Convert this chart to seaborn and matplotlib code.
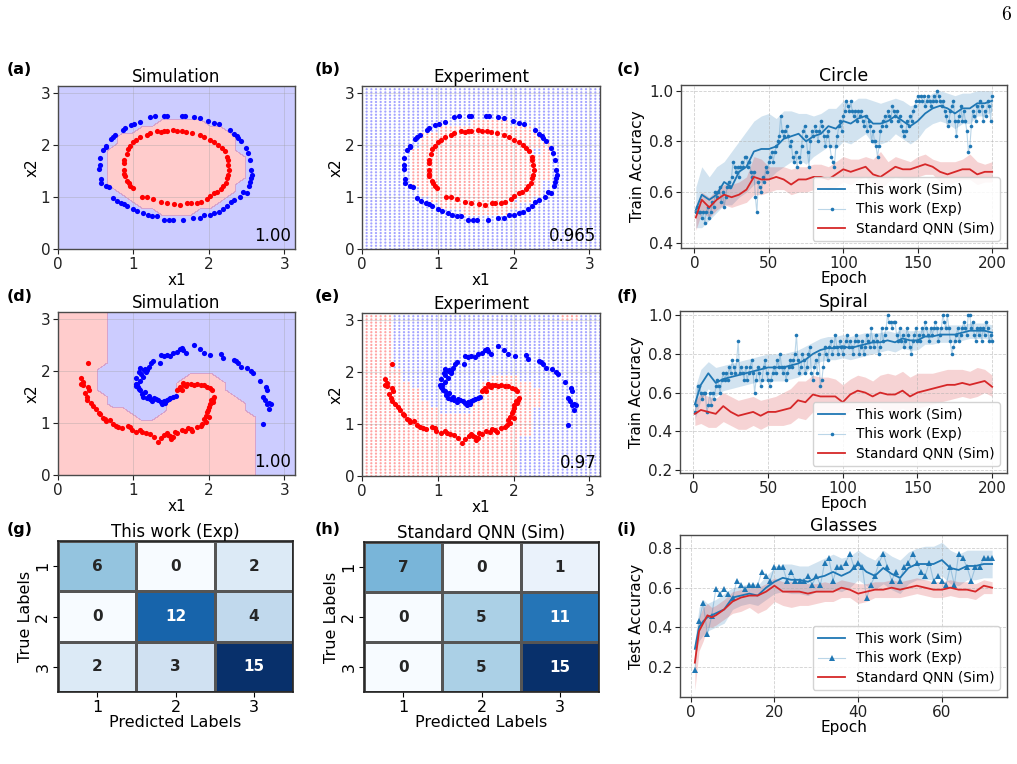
import numpy as np
import matplotlib
matplotlib.use("Agg")
import matplotlib.pyplot as plt
import seaborn as sns

# ---------------------------------------------------------------- data
# circle dataset (panels a, b)
circle_blue_x = [1.28,1.41,1.44,1.64,1.68,1.80,1.88,1.99,2.07,2.14,2.28,2.33,2.37,2.39,2.43,2.49,2.52,2.55,2.56,2.57,
                 2.56,2.55,2.53,2.50,2.45,2.41,2.33,2.29,2.24,2.19,2.13,2.07,2.01,1.94,1.88,1.79,1.66,1.52,1.47,1.40,
                 1.31,1.25,1.19,1.13,1.05,1.00,0.92,0.88,0.84,0.78,0.73,0.67,0.64,0.57,0.57,0.55,0.56,0.56,0.60,0.63,
                 0.64,0.70,0.73,0.76,0.86,0.89,0.97,1.01,1.09,1.22]
circle_blue_y = [2.57,2.57,2.56,2.57,2.56,2.55,2.52,2.46,2.43,2.41,2.29,2.21,2.17,2.14,2.08,1.95,1.85,1.72,1.53,1.43,
                 1.37,1.30,1.22,1.08,1.09,1.01,0.94,0.90,0.82,0.77,0.72,0.69,0.66,0.65,0.60,0.59,0.55,0.56,0.56,0.55,
                 0.63,0.64,0.65,0.69,0.74,0.78,0.82,0.87,0.88,0.92,0.99,1.19,1.22,1.27,1.35,1.55,1.61,1.75,1.90,1.97,
                 1.99,2.12,2.16,2.20,2.30,2.33,2.39,2.41,2.45,2.55]
circle_red_x = [1.31,1.36,1.40,1.44,1.53,1.58,1.65,1.70,1.78,1.88,1.94,2.01,2.07,2.12,2.17,2.21,2.24,2.25,2.26,2.27,
                2.26,2.24,2.23,2.19,2.16,2.11,2.07,2.01,1.97,1.89,1.84,1.76,1.71,1.62,1.54,1.44,1.36,1.26,1.18,1.11,
                0.99,0.96,0.94,0.92,0.89,0.88,0.88,0.88,0.88,0.91,0.93,0.96,1.00,1.04,1.09,1.18,1.22]
circle_red_y = [2.27,2.25,2.27,2.28,2.29,2.28,2.28,2.25,2.23,2.19,2.15,2.11,2.07,2.01,1.95,1.88,1.77,1.71,1.61,1.53,
                1.43,1.37,1.28,1.21,1.15,1.10,1.08,1.03,0.96,0.90,0.88,0.88,0.88,0.85,0.86,0.88,0.90,0.96,1.00,1.01,
                1.18,1.22,1.27,1.32,1.40,1.45,1.53,1.65,1.72,1.83,1.92,1.99,2.06,2.11,2.15,2.20,2.24]

# spiral dataset (panels d, e)
spiral_blue_x = [1.15,1.18,1.20,1.23,1.26,1.35,1.36,1.40,1.44,1.49,1.53,1.58,1.62,1.65,1.66,1.70,1.80,1.88,1.93,2.02,
                 2.16,2.19,2.33,2.36,2.39,2.43,2.51,2.56,2.59,2.68,2.76,2.77,2.72,2.74,2.77,2.80,2.83,2.80,2.72,
                 1.09,1.08,1.04,1.03,1.04,1.07,1.09,1.11,1.13,1.18,1.22,1.27,1.33,1.36,1.40,1.44,1.49,1.53,1.56,1.09,
                 1.13,1.05,1.17,1.25,1.30,1.38,1.42,1.47,1.20,1.15,1.06,1.10,1.14]
spiral_blue_y = [2.05,2.02,2.09,2.16,2.20,2.16,2.31,2.29,2.31,2.30,2.35,2.37,2.43,2.45,2.40,2.36,2.51,2.42,2.36,2.32,
                 2.34,2.25,2.22,2.20,2.16,2.09,2.07,2.00,1.96,1.82,1.69,1.64,1.50,1.45,1.37,1.38,1.37,1.27,0.99,
                 2.07,1.98,1.87,1.76,1.72,1.66,1.63,1.56,1.51,1.49,1.47,1.49,1.44,1.40,1.42,1.45,1.49,1.51,1.53,1.82,
                 1.88,1.76,1.98,1.43,1.46,1.37,1.39,1.47,1.52,1.60,1.69,1.95,2.02]
spiral_red_x = [0.40,0.31,0.33,0.31,0.33,0.40,0.41,0.38,0.39,0.47,0.54,0.56,0.59,0.64,0.69,0.73,0.77,0.80,0.96,0.98,
                1.09,1.12,1.22,1.32,1.41,1.44,1.49,1.50,1.53,1.58,1.64,1.69,1.76,1.78,
                1.89,1.91,1.93,1.96,1.98,2.00,2.01,2.03,2.06,2.07,2.04,2.02,1.98,1.93,1.89,1.84,1.80,1.76,1.71,1.67,
                1.62,1.60,1.58,1.64,2.00,1.96,
                0.36,0.44,0.50,0.62,0.85,0.93,1.04,1.16,1.27,1.36,1.46,1.55,1.72,1.84,1.99,2.05,1.70,1.66]
spiral_red_y = [2.16,1.87,1.79,1.76,1.73,1.69,1.64,1.50,1.45,1.33,1.19,1.17,1.10,1.05,1.06,0.98,0.95,0.92,0.92,0.86,
                0.86,0.82,0.79,0.64,0.78,0.80,0.75,0.70,0.73,0.80,0.86,0.84,0.88,0.84,
                0.95,0.98,1.08,1.14,1.21,1.31,1.37,1.44,1.47,1.51,1.63,1.67,1.69,1.73,1.74,1.75,1.73,1.75,1.76,1.73,
                1.69,1.66,1.64,1.63,1.11,1.02,
                1.58,1.38,1.28,1.08,0.90,0.95,0.83,0.80,0.74,0.72,0.77,0.83,0.90,0.92,1.25,1.40,1.71,1.77]

# predicted class maps (top row = top of plot; '.' blue class, 'r' red class)
circle_map_sim = [
    "........................", "........................", "........................",
    "........................", "........................",
    "..........rrrrr.........",
    "........rrrrrrrrr.......",
    "......rrrrrrrrrrrr......",
    "......rrrrrrrrrrrr......",
    ".....rrrrrrrrrrrrr......",
    ".....rrrrrrrrrrrrrr.....",
    ".....rrrrrrrrrrrrrr.....",
    ".....rrrrrrrrrrrrrr.....",
    ".....rrrrrrrrrrrrrr.....",
    ".....rrrrrrrrrrrrr......",
    "......rrrrrrrrrrrr......",
    ".......rrrrrrrrrr.......",
    "........rrrrrrrr........",
    "..........rrrr..........",
    "........................", "........................", "........................",
    "........................", "........................",
]
circle_map_exp = [
    "........................", "........................", "........................",
    "........................", "........................",
    "...........rrrr.........",
    "........rrrrrrrrr.......",
    "......rrrrrrrrrrrr......",
    "......rrrrrrrrrrrrr.....",
    ".....rrrrrrrrrrrr.r.....",
    ".....rrrrrrrrrrrrrr.....",
    ".....rrrrrrrrrrrrrr.....",
    ".....rrrrrrrrrrrrrr.....",
    ".....rrrrrrrrrrrrrr.....",
    ".....rrrrrrrrrrrrr......",
    "......rrrrrrrrrrrr......",
    ".......rrrrrrrr.r.......",
    "........rrrrrrrr........",
    "..........rrrrr.........",
    "........................", "........................", "........................",
    "........................", "........................",
]
spiral_map_sim = [
    "rrrrr...................", "rrrrr...................", "rrrrr...................",
    "rrrrr...................", "rrrrr...................", "rrrrr...................",
    "rrrrr...................", "rrrrr...................",
    "rrrr....................",
    "rrrr.........rrr........",
    "rrrr........rrrrr.......",
    "rrrr........rrrrr.......",
    "rrrrr.......rrrrrr......",
    "rrrrr......rrrrrrrr.....",
    "rrrrrrr....rrrrrrrr.....",
    "rrrrrrrr..rrrrrrrrrr....",
    "rrrrrrrrrrrrrrrrrrrr....", "rrrrrrrrrrrrrrrrrrrr....", "rrrrrrrrrrrrrrrrrrrr....",
    "rrrrrrrrrrrrrrrrrrrr....", "rrrrrrrrrrrrrrrrrrrr....", "rrrrrrrrrrrrrrrrrrrr....",
    "rrrrrrrrrrrrrrrrrrrr....", "rrrrrrrrrrrrrrrrrrrr....",
]
spiral_map_exp = [
    "rrr.................rr..",
    "rrr.....................", "rrr.....................", "rrr.....................",
    "rrr.....................", "rrr.....................", "rrr.....................",
    "rrr.....................",
    "rrrr....................",
    "rrrr.........rrr........",
    "rrrrr.......rrrrr.......",
    "rrrrrr......rrrrrr......",
    "rrrrrr......rrrrrr......",
    "rrrrrrr....rrrrrrr......",
    "rrrrrrrr...rrrrrr.......",
    "rrrrrrrrrrrrrrrrr.......", "rrrrrrrrrrrrrrrrr.......", "rrrrrrrrrrrrrrrrr.......",
    "rrrrrrrrrrrrrrrr........", "rrrrrrrrrrrrrrrr........", "rrrrrrrrrrrrrrrr........",
    "rrrrrrrrrrrrrrrr........", "rrrrrrrrrrrrrrrr........", "rrrrrrrrrrrrrrrr........",
]
acc_circle_sim, acc_circle_exp = "1.00", "0.965"
acc_spiral_sim, acc_spiral_exp = "1.00", "0.97"

# training curves, circle (c) and spiral (f)
curve_epochs = [1, 5, 10, 15, 20, 25, 30, 35, 40, 45, 50, 55, 60, 65, 70, 75, 80, 85, 90, 95, 100,
                105, 110, 115, 120, 125, 130, 135, 140, 145, 150, 155, 160, 165, 170, 175, 180, 185, 190, 195, 200]
circle_sim = [0.53,0.59,0.57,0.59,0.64,0.62,0.68,0.70,0.76,0.77,0.77, 0.78,0.81,0.82,0.83,0.80,0.82,0.83,0.86,0.85,0.88,
              0.87,0.89,0.90,0.87,0.87,0.88,0.90,0.88,0.86,0.88, 0.91,0.93,0.94,0.93,0.91,0.93,0.93,0.95,0.95,0.96]
circle_sim_hi = [0.62,0.70,0.66,0.70,0.72,0.76,0.80,0.84,0.88,0.90,0.91, 0.89,0.92,0.92,0.91,0.91,0.90,0.91,0.93,0.93,0.96,
                 0.95,0.97,0.97,0.96,0.95,0.96,0.97,0.96,0.94,0.95, 0.97,0.99,1.00,0.99,0.98,0.99,0.99,1.00,1.00,1.00]
circle_sim_lo = [0.46,0.46,0.49,0.52,0.55,0.55,0.58,0.60,0.63,0.64,0.65, 0.68,0.70,0.72,0.73,0.71,0.74,0.76,0.78,0.77,0.80,
                 0.79,0.81,0.83,0.79,0.79,0.80,0.83,0.81,0.79,0.81, 0.85,0.87,0.88,0.87,0.85,0.87,0.87,0.90,0.90,0.92]
circle_qnn = [0.50,0.57,0.54,0.57,0.59,0.58,0.59,0.61,0.66,0.65,0.65, 0.66,0.65,0.63,0.65,0.65,0.66,0.66,0.65,0.67,0.69,
              0.68,0.69,0.70,0.67,0.66,0.68,0.70,0.69,0.69,0.70, 0.71,0.70,0.68,0.67,0.68,0.69,0.69,0.67,0.68,0.68]
circle_qnn_hi = [0.55,0.60,0.58,0.61,0.63,0.63,0.64,0.66,0.74,0.73,0.70, 0.70,0.70,0.69,0.70,0.70,0.71,0.71,0.70,0.72,0.74,
                 0.73,0.73,0.74,0.73,0.76,0.72,0.74,0.73,0.72,0.74, 0.75,0.73,0.72,0.72,0.72,0.73,0.75,0.72,0.71,0.72]
circle_qnn_lo = [0.45,0.52,0.50,0.53,0.55,0.54,0.55,0.56,0.59,0.59,0.60, 0.61,0.61,0.59,0.60,0.60,0.61,0.62,0.61,0.62,0.64,
                 0.63,0.65,0.66,0.63,0.61,0.64,0.66,0.65,0.65,0.66, 0.67,0.67,0.64,0.63,0.64,0.65,0.65,0.63,0.64,0.64]
circle_train_size = 50
circle_exp_correct = [26,27,26,26,25,26,24,26,27,25, 26,28,27,30,29,30,31,28,30,27,
                      29,31,32,31,33,36,35,34,35,33, 35,36,35,37,37,35,36,34,33,34,
                      29,26,32,31,30,33,32,35,34,36, 37,38,36,38,39,40,41,45,42,41,
                      42,43,41,39,40,37,36,38,35,37, 36,39,42,43,41,38,35,40,42,41,
                      43,42,40,42,44,43,41,39,41,42, 39,37,36,35,39,41,43,44,42,45,
                      46,48,47,46,48,46,45,46,44,46, 45,46,44,43,45,42,44,43,40,42,
                      40,39,37,39,42,43,44,45,43,46, 45,44,47,46,45,46,44,45,43,42,
                      41,42,44,43,45,44,46,47,48,49, 48,49,48,49,47,48,49,48,47,48,
                      49,48,50,49,48,47,48,46,45,43, 44,46,47,48,44,41,44,45,47,44,
                      46,44,42,38,39,43,46,45,44,47, 46,48,47,44,46,45,48,47,44,49]

spiral_sim = [0.54,0.64,0.70,0.65,0.67,0.68,0.69,0.70,0.71,0.72,0.73, 0.73,0.73,0.74,0.75,0.77,0.80,0.82,0.83,0.83,0.84,
              0.83,0.84,0.85,0.86,0.86,0.87,0.86,0.88,0.87,0.87, 0.89,0.89,0.90,0.90,0.90,0.91,0.92,0.92,0.92,0.91]
spiral_sim_hi = [0.62,0.72,0.76,0.73,0.74,0.75,0.76,0.77,0.78,0.79,0.80, 0.80,0.80,0.81,0.82,0.84,0.86,0.88,0.89,0.89,0.90,
                 0.89,0.90,0.91,0.91,0.91,0.92,0.91,0.93,0.92,0.92, 0.93,0.93,0.94,0.95,0.95,0.95,0.96,0.96,0.96,0.95]
spiral_sim_lo = [0.46,0.56,0.62,0.58,0.61,0.62,0.63,0.64,0.65,0.66,0.66, 0.66,0.66,0.67,0.68,0.70,0.74,0.76,0.77,0.77,0.78,
                 0.77,0.78,0.79,0.80,0.81,0.82,0.81,0.83,0.82,0.82, 0.85,0.85,0.86,0.86,0.86,0.87,0.88,0.88,0.88,0.87]
spiral_qnn = [0.49,0.51,0.50,0.49,0.53,0.50,0.48,0.49,0.50,0.48,0.50, 0.50,0.51,0.52,0.56,0.55,0.59,0.58,0.58,0.58,0.55,
              0.59,0.61,0.60,0.58,0.60,0.59,0.59,0.61,0.58,0.60, 0.61,0.62,0.63,0.64,0.64,0.65,0.64,0.65,0.66,0.63]
spiral_qnn_hi = [0.55,0.60,0.58,0.57,0.60,0.58,0.56,0.57,0.58,0.56,0.57, 0.58,0.60,0.62,0.66,0.66,0.69,0.68,0.68,0.67,0.64,
                 0.67,0.69,0.68,0.66,0.69,0.70,0.69,0.71,0.68,0.70, 0.70,0.70,0.71,0.72,0.72,0.72,0.71,0.73,0.72,0.69]
spiral_qnn_lo = [0.43,0.44,0.42,0.42,0.45,0.43,0.41,0.41,0.43,0.41,0.43, 0.43,0.43,0.44,0.47,0.46,0.50,0.49,0.49,0.50,0.47,
                 0.51,0.53,0.52,0.50,0.52,0.50,0.50,0.52,0.50,0.52, 0.53,0.54,0.55,0.56,0.57,0.58,0.57,0.58,0.60,0.58]
spiral_train_size = 30
spiral_exp_correct = [15,16,19,19,18,17,18,18,15,16, 18,16,18,17,19,20,19,18,20,21,
                      20,21,20,22,21,23,22,21,23,26, 21,22,21,20,22,20,21,22,23,21,
                      18,20,22,21,19,20,22,23,21,20, 19,20,21,22,21,23,22,24,22,21,
                      22,20,21,22,23,22,23,24,27,23, 21,22,24,23,21,22,24,25,21,20,
                      22,23,21,24,19,20,22,25,24,23, 25,26,24,25,27,25,24,26,25,24,
                      25,26,27,25,26,25,24,26,27,26, 24,25,26,24,25,27,26,25,28,26,
                      25,27,26,24,25,28,26,27,28,30, 29,29,28,29,29,27,26,28,26,27,
                      25,26,28,27,25,24,26,27,28,26, 27,26,28,27,29,28,27,26,28,27,
                      28,29,28,26,27,28,30,29,28,30, 28,26,24,25,26,27,28,26,27,28,
                      29,28,27,30,30,28,29,27,26,28, 27,28,26,28,27,29,28,26,27,26]

# test curves, glasses (i)
glass_epochs = [1, 2, 3, 4, 5, 6, 8, 10, 12, 14, 16, 18, 20, 22, 24, 26, 28, 30, 32, 34, 36, 38, 40,
                42, 44, 46, 48, 50, 52, 54, 56, 58, 60, 62, 64, 66, 68, 70, 72]
glass_sim = [0.29,0.40,0.43,0.45,0.46,0.47, 0.49,0.55,0.56,0.57,0.56,0.60,0.63,0.65,0.64,0.64,0.63,0.65,0.66,0.68,
             0.66,0.68,0.72,0.68,0.66,0.70,0.67,0.65,0.70,0.72,0.72,0.72,0.74,0.70,0.69,0.71,0.71,0.72,0.72]
glass_sim_hi = [0.33,0.50,0.54,0.52,0.53,0.54, 0.57,0.60,0.61,0.62,0.61,0.66,0.70,0.72,0.72,0.71,0.71,0.73,0.75,0.77,
                0.75,0.76,0.79,0.76,0.74,0.79,0.76,0.74,0.78,0.80,0.81,0.81,0.83,0.79,0.77,0.79,0.79,0.79,0.79]
glass_sim_lo = [0.25,0.33,0.36,0.38,0.39,0.40, 0.42,0.49,0.51,0.52,0.51,0.54,0.57,0.58,0.57,0.57,0.56,0.58,0.58,0.59,
                0.58,0.60,0.64,0.61,0.59,0.62,0.59,0.57,0.62,0.64,0.64,0.64,0.66,0.62,0.61,0.64,0.64,0.65,0.65]
glass_qnn = [0.22,0.38,0.42,0.46,0.45,0.46, 0.49,0.53,0.55,0.56,0.56,0.58,0.61,0.58,0.58,0.58,0.57,0.58,0.58,0.58,
             0.60,0.59,0.57,0.58,0.59,0.59,0.60,0.59,0.60,0.61,0.60,0.59,0.59,0.60,0.59,0.59,0.58,0.61,0.60]
glass_qnn_hi = [0.30,0.45,0.50,0.52,0.50,0.51, 0.54,0.58,0.59,0.60,0.60,0.62,0.65,0.63,0.63,0.63,0.62,0.62,0.63,0.62,
                0.64,0.63,0.62,0.62,0.63,0.63,0.64,0.63,0.64,0.65,0.64,0.63,0.63,0.64,0.63,0.63,0.62,0.64,0.63]
glass_qnn_lo = [0.08,0.28,0.33,0.40,0.40,0.41, 0.44,0.47,0.48,0.50,0.47,0.49,0.53,0.51,0.50,0.51,0.51,0.52,0.53,0.53,
                0.55,0.55,0.52,0.53,0.55,0.55,0.55,0.55,0.56,0.57,0.56,0.55,0.55,0.56,0.55,0.55,0.54,0.57,0.57]
glass_test_size = 44
glass_exp_correct = [8,19,23,16,20,26,25,26,25,24, 28,27,26,27,27,27,30,29,28,31,
                     31,31,28,30,28,28,28,29,27,29, 27,32,33,28,31,31,32,34,31,32,
                     31,24,27,29,32,34,31,28,30,28, 31,32,34,32,30,29,32,28,29,28,
                     27,31,27,34,33,31,28,31,31,33, 33,33]

# confusion matrices (g, h)
class_labels = ["1", "2", "3"]
conf_this_work = [[6, 0, 2], [0, 12, 4], [2, 3, 15]]
conf_standard = [[7, 0, 1], [0, 5, 11], [0, 5, 15]]

# ---------------------------------------------------------------- style
C_BLUE = "#1f77b4"
C_RED = "#d62728"
SPINE = "#4a4a4a"
FS_TICK, FS_LABEL, FS_TITLE = 11, 11, 12

W, H = 1017, 764
fig = plt.figure(figsize=(W / 100, H / 100), dpi=100)


def rect(x0, y0, x1, y1):
    return [x0 / W, 1 - y1 / H, (x1 - x0) / W, (y1 - y0) / H]


def style_axes(ax):
    for s in ax.spines.values():
        s.set_color(SPINE)
        s.set_linewidth(1.0)
    ax.tick_params(labelsize=FS_TICK, colors="#222222", pad=2)


def decode(rows):
    return np.array([[1 if ch == "r" else 0 for ch in row] for row in rows[::-1]])


def draw_region(ax, rows):
    Z = decode(rows)
    n = Z.shape[0]
    step = np.pi / n
    coords = np.concatenate([[0.0], (np.arange(n) + 0.5) * step, [np.pi]])
    Zp = np.pad(Z, 1, mode="edge")
    ax.contourf(coords, coords, Zp, levels=[-0.5, 0.5, 1.5], colors=["blue", "red"], alpha=0.2)


def draw_lattice(ax, rows, n_lat=52):
    Z = decode(rows)
    n = Z.shape[0]
    step = np.pi / n
    g = np.linspace(0, np.pi, n_lat)
    GX, GY = np.meshgrid(g, g)
    ix = np.minimum((GX / step).astype(int), n - 1)
    iy = np.minimum((GY / step).astype(int), n - 1)
    lab = Z[iy, ix].ravel()
    cols = np.where(lab == 1, "#ffa4a4", "#a4a4ff")
    ax.scatter(GX.ravel(), GY.ravel(), c=cols, s=2.6, marker="o", linewidths=0, zorder=1)


def scatter_panel(box, title, bx, by, rx, ry, rows, acc, lattice):
    ax = fig.add_axes(rect(*box))
    if lattice:
        draw_lattice(ax, rows)
    else:
        draw_region(ax, rows)
    sns.scatterplot(x=bx, y=by, color="blue", s=14, linewidth=0, ax=ax, zorder=3, legend=False)
    sns.scatterplot(x=rx, y=ry, color="red", s=14, linewidth=0, ax=ax, zorder=3, legend=False)
    ax.set_xlim(0, np.pi)
    ax.set_ylim(0, np.pi)
    ax.set_xticks([0, 1, 2, 3])
    ax.set_yticks([0, 1, 2, 3])
    ax.grid(True, color="#9a9a9a", linewidth=0.5, alpha=0.45)
    ax.set_title(title, fontsize=FS_TITLE, pad=3)
    ax.set_xlabel("x1", fontsize=FS_LABEL, labelpad=1)
    ax.set_ylabel("x2", fontsize=FS_LABEL, labelpad=1)
    ax.text(0.985, 0.025, acc, transform=ax.transAxes, ha="right", va="bottom", fontsize=12, zorder=5)
    style_axes(ax)
    return ax


def curve_panel(box, title, ep, sim, lo, hi, q, qlo, qhi, exp_correct, n_samples, marker, ms,
                ylim, yticks, xticks, ylabel):
    ax = fig.add_axes(rect(*box))
    ax.fill_between(ep, lo, hi, color=C_BLUE, alpha=0.2, linewidth=0)
    ax.fill_between(ep, qlo, qhi, color=C_RED, alpha=0.2, linewidth=0)
    sns.lineplot(x=ep, y=sim, ax=ax, color=C_BLUE, linewidth=1.3, label="This work (Sim)",
                 errorbar=None, legend=False)
    exp_ep = np.arange(1, len(exp_correct) + 1)
    exp_acc = np.array(exp_correct) / n_samples
    ax.plot(exp_ep, exp_acc, color=(0.12, 0.47, 0.71, 0.3), linewidth=0.8, marker=marker,
            markersize=ms, markerfacecolor=C_BLUE, markeredgecolor=C_BLUE, markeredgewidth=0,
            label="This work (Exp)")
    sns.lineplot(x=ep, y=q, ax=ax, color=C_RED, linewidth=1.3, label="Standard QNN (Sim)",
                 errorbar=None, legend=False)
    ax.set_ylim(*ylim)
    ax.set_yticks(yticks)
    ax.set_xticks(xticks)
    ax.grid(True, linestyle="--", color="#b0b0b0", linewidth=0.6, alpha=0.6)
    ax.set_title(title, fontsize=FS_TITLE + 0.5, pad=3)
    ax.set_xlabel("Epoch", fontsize=FS_LABEL, labelpad=0)
    ax.set_ylabel(ylabel, fontsize=FS_LABEL, labelpad=3)
    ax.legend(loc="lower right", fontsize=9.8, framealpha=0.85, borderpad=0.4,
              handlelength=2.0, labelspacing=0.4, handletextpad=0.8)
    style_axes(ax)
    return ax


def conf_panel(box, title, mat):
    ax = fig.add_axes(rect(*box))
    sns.heatmap(np.array(mat), ax=ax, cmap="Blues", annot=True, fmt="d", cbar=False,
                linewidths=1.0, linecolor="#555555",
                annot_kws={"fontsize": 11, "fontweight": "bold"},
                xticklabels=class_labels, yticklabels=class_labels)
    for s in ax.spines.values():
        s.set_visible(True)
        s.set_color("#222222")
        s.set_linewidth(1.2)
    ax.set_title(title, fontsize=FS_TITLE, pad=3)
    ax.set_xlabel("Predicted Labels", fontsize=FS_LABEL + 0.5, labelpad=0)
    ax.set_ylabel("True Labels", fontsize=FS_LABEL + 0.5, labelpad=2)
    ax.tick_params(labelsize=FS_TICK + 0.5, pad=2)
    return ax


# ---------------------------------------------------------------- panels
scatter_panel((58, 86, 295, 249), "Simulation", circle_blue_x, circle_blue_y, circle_red_x, circle_red_y,
              circle_map_sim, acc_circle_sim, lattice=False)
scatter_panel((362, 86, 600, 249), "Experiment", circle_blue_x, circle_blue_y, circle_red_x, circle_red_y,
              circle_map_exp, acc_circle_exp, lattice=True)
scatter_panel((58, 312, 295, 475), "Simulation", spiral_blue_x, spiral_blue_y, spiral_red_x, spiral_red_y,
              spiral_map_sim, acc_spiral_sim, lattice=False)
scatter_panel((362, 313, 600, 476), "Experiment", spiral_blue_x, spiral_blue_y, spiral_red_x, spiral_red_y,
              spiral_map_exp, acc_spiral_exp, lattice=True)

curve_panel((681, 85, 1007, 248), "Circle", curve_epochs, circle_sim, circle_sim_lo, circle_sim_hi,
            circle_qnn, circle_qnn_lo, circle_qnn_hi, circle_exp_correct, circle_train_size, "o", 2.6,
            (0.38, 1.022), [0.4, 0.6, 0.8, 1.0], [0, 50, 100, 150, 200], "Train Accuracy")
curve_panel((680, 311, 1007, 473), "Spiral", curve_epochs, spiral_sim, spiral_sim_lo, spiral_sim_hi,
            spiral_qnn, spiral_qnn_lo, spiral_qnn_hi, spiral_exp_correct, spiral_train_size, "o", 2.6,
            (0.184, 1.022), [0.2, 0.4, 0.6, 0.8, 1.0], [0, 50, 100, 150, 200], "Train Accuracy")
curve_panel((680, 535, 1007, 697), "Glasses", glass_epochs, glass_sim, glass_sim_lo, glass_sim_hi,
            glass_qnn, glass_qnn_lo, glass_qnn_hi, glass_exp_correct, glass_test_size, "^", 5,
            (0.046, 0.867), [0.2, 0.4, 0.6, 0.8], [0, 20, 40, 60], "Test Accuracy")

conf_panel((58, 541, 293, 692), "This work (Exp)", conf_this_work)
conf_panel((364, 542, 599, 692), "Standard QNN (Sim)", conf_standard)

# panel letters
for lab, x, y in [("(a)", 7, 62), ("(b)", 315, 62), ("(c)", 617, 62),
                  ("(d)", 7, 289), ("(e)", 315, 289), ("(f)", 617, 289),
                  ("(g)", 7, 522), ("(h)", 315, 522), ("(i)", 617, 522)]:
    fig.text(x / W, 1 - y / H, lab, ha="left", va="top", fontsize=11.5, fontweight="bold")

fig.text(1011 / W, 1 - 6 / H, "6", ha="right", va="top", fontsize=14, family="cmr10")

fig.savefig("out.png", dpi=100)
